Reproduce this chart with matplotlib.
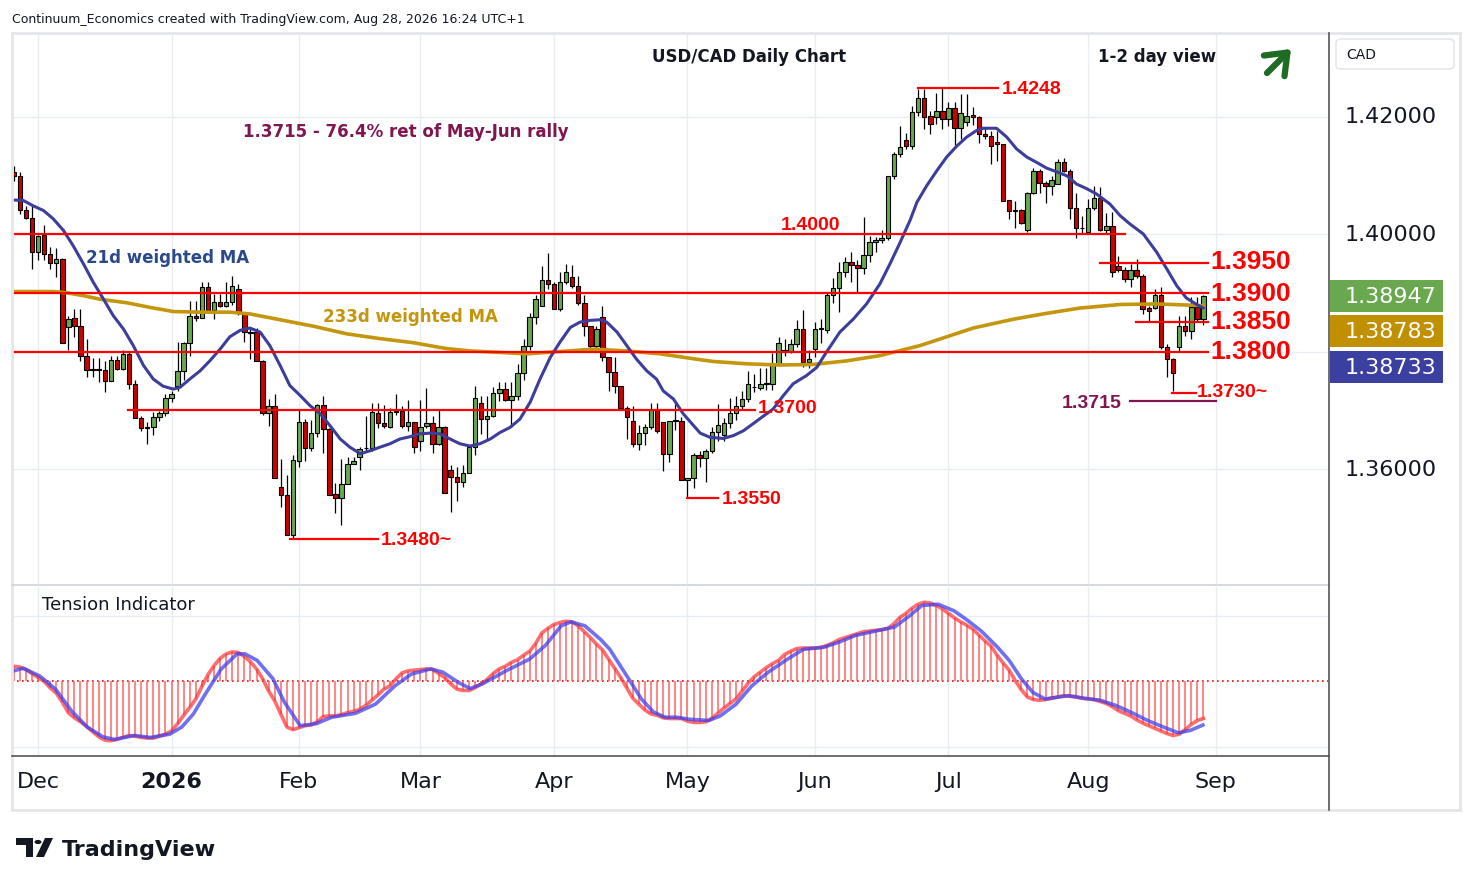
import matplotlib.pyplot as plt
import numpy as np
import pandas as pd
from matplotlib.patches import Rectangle, FancyArrowPatch, FancyBboxPatch, Polygon, Circle
from matplotlib.lines import Line2D

W, H = 1474, 887

# daily bars, weekdays, no bars on christmas day / new year's day
dates = pd.bdate_range("2025-11-25", "2026-08-28")
dates = dates[~dates.isin(pd.to_datetime(["2025-12-25", "2026-01-01"]))]

opens = [1.4106, 1.4098, 1.4041, 1.4028, 1.3970, 1.3998, 1.3966, 1.3951, 1.3957, 1.3841,
         1.3857, 1.3844, 1.3792, 1.3770, 1.3769, 1.3768, 1.3749, 1.3785, 1.3771, 1.3795,
         1.3744, 1.3686, 1.3670, 1.3671, 1.3688, 1.3695, 1.3720, 1.3742, 1.3766, 1.3814,
         1.3860, 1.3857, 1.3909, 1.3871, 1.3885, 1.3878, 1.3885, 1.3907, 1.3864, 1.3833,
         1.3833, 1.3784, 1.3695, 1.3707, 1.3569, 1.3555, 1.3488, 1.3614, 1.3680, 1.3635,
         1.3661, 1.3709, 1.3668, 1.3557, 1.3550, 1.3574, 1.3609, 1.3620, 1.3635, 1.3635,
         1.3696, 1.3679, 1.3672, 1.3697, 1.3698, 1.3674, 1.3680, 1.3647, 1.3674, 1.3678,
         1.3643, 1.3672, 1.3598, 1.3586, 1.3578, 1.3593, 1.3637, 1.3713, 1.3685, 1.3691,
         1.3730, 1.3737, 1.3718, 1.3724, 1.3763, 1.3809, 1.3858, 1.3877, 1.3922, 1.3915,
         1.3872, 1.3918, 1.3926, 1.3911, 1.3883, 1.3843, 1.3809, 1.3858, 1.3790, 1.3765,
         1.3741, 1.3703, 1.3682, 1.3643, 1.3662, 1.3671, 1.3701, 1.3680, 1.3626, 1.3682,
         1.3682, 1.3582, 1.3584, 1.3623, 1.3618, 1.3631, 1.3663, 1.3658, 1.3678, 1.3695,
         1.3707, 1.3719, 1.3739, 1.3738, 1.3745, 1.3745, 1.3779, 1.3801, 1.3801, 1.3813,
         1.3839, 1.3782, 1.3805, 1.3839, 1.3837, 1.3896, 1.3908, 1.3936, 1.3952, 1.3947,
         1.3942, 1.3965, 1.3986, 1.3990, 1.3994, 1.4098, 1.4136, 1.4160, 1.4150, 1.4208,
         1.4231, 1.4200, 1.4200, 1.4209, 1.4196, 1.4214, 1.4180, 1.4190, 1.4203, 1.4199,
         1.4170, 1.4166, 1.4157, 1.4153, 1.4058, 1.4040, 1.4040, 1.4006, 1.4070, 1.4107,
         1.4086, 1.4082, 1.4085, 1.4122, 1.4108, 1.4045, 1.4010, 1.4004, 1.4045, 1.4061,
         1.4007, 1.4013, 1.3945, 1.3939, 1.3923, 1.3939, 1.3929, 1.3874, 1.3874, 1.3896,
         1.3807, 1.3788, 1.3807, 1.3843, 1.3835, 1.3875, 1.3855]
highs = [1.4115, 1.4106, 1.4048, 1.4051, 1.3999, 1.4015, 1.3978, 1.3976, 1.3960, 1.3861,
         1.3872, 1.3872, 1.3822, 1.3789, 1.3789, 1.3783, 1.3793, 1.3793, 1.3803, 1.3800,
         1.3752, 1.3691, 1.3680, 1.3697, 1.3699, 1.3728, 1.3733, 1.3816, 1.3817, 1.3886,
         1.3886, 1.3918, 1.3918, 1.3898, 1.3898, 1.3918, 1.3928, 1.3915, 1.3866, 1.3841,
         1.3840, 1.3786, 1.3719, 1.3728, 1.3617, 1.3589, 1.3623, 1.3700, 1.3685, 1.3683,
         1.3711, 1.3725, 1.3670, 1.3577, 1.3617, 1.3621, 1.3621, 1.3637, 1.3690, 1.3712,
         1.3712, 1.3709, 1.3704, 1.3727, 1.3707, 1.3717, 1.3680, 1.3718, 1.3738, 1.3690,
         1.3701, 1.3673, 1.3607, 1.3603, 1.3607, 1.3640, 1.3742, 1.3725, 1.3724, 1.3739,
         1.3748, 1.3748, 1.3748, 1.3778, 1.3821, 1.3866, 1.3897, 1.3946, 1.3968, 1.3918,
         1.3935, 1.3949, 1.3947, 1.3929, 1.3897, 1.3843, 1.3843, 1.3878, 1.3790, 1.3790,
         1.3742, 1.3708, 1.3708, 1.3675, 1.3677, 1.3713, 1.3713, 1.3680, 1.3682, 1.3711,
         1.3688, 1.3585, 1.3627, 1.3631, 1.3634, 1.3671, 1.3711, 1.3686, 1.3720, 1.3724,
         1.3733, 1.3767, 1.3761, 1.3772, 1.3772, 1.3798, 1.3824, 1.3821, 1.3821, 1.3853,
         1.3871, 1.3803, 1.3850, 1.3855, 1.3899, 1.3925, 1.3952, 1.3961, 1.3969, 1.3955,
         1.4029, 1.3996, 1.3995, 1.4007, 1.4098, 1.4139, 1.4184, 1.4172, 1.4218, 1.4247,
         1.4247, 1.4210, 1.4240, 1.4248, 1.4225, 1.4225, 1.4238, 1.4238, 1.4216, 1.4201,
         1.4181, 1.4176, 1.4176, 1.4153, 1.4058, 1.4057, 1.4042, 1.4071, 1.4112, 1.4111,
         1.4091, 1.4099, 1.4128, 1.4129, 1.4111, 1.4070, 1.4031, 1.4060, 1.4081, 1.4080,
         1.4036, 1.4038, 1.3962, 1.3943, 1.3949, 1.3957, 1.3932, 1.3878, 1.3907, 1.3909,
         1.3813, 1.3789, 1.3861, 1.3861, 1.3892, 1.3892, 1.3897]
lows = [1.4090, 1.4034, 1.4025, 1.3940, 1.3955, 1.3955, 1.3940, 1.3927, 1.3814, 1.3803,
        1.3825, 1.3784, 1.3756, 1.3756, 1.3748, 1.3731, 1.3749, 1.3768, 1.3768, 1.3736,
        1.3686, 1.3665, 1.3643, 1.3658, 1.3682, 1.3690, 1.3714, 1.3733, 1.3752, 1.3792,
        1.3852, 1.3857, 1.3866, 1.3856, 1.3876, 1.3876, 1.3880, 1.3862, 1.3816, 1.3787,
        1.3784, 1.3692, 1.3674, 1.3584, 1.3535, 1.3488, 1.3482, 1.3604, 1.3613, 1.3630,
        1.3654, 1.3627, 1.3555, 1.3525, 1.3505, 1.3574, 1.3608, 1.3599, 1.3630, 1.3630,
        1.3670, 1.3670, 1.3670, 1.3692, 1.3670, 1.3665, 1.3627, 1.3631, 1.3670, 1.3627,
        1.3640, 1.3559, 1.3526, 1.3545, 1.3570, 1.3593, 1.3623, 1.3659, 1.3650, 1.3688,
        1.3715, 1.3715, 1.3671, 1.3718, 1.3752, 1.3803, 1.3847, 1.3877, 1.3906, 1.3872,
        1.3869, 1.3915, 1.3908, 1.3880, 1.3826, 1.3805, 1.3805, 1.3784, 1.3732, 1.3730,
        1.3700, 1.3651, 1.3637, 1.3632, 1.3640, 1.3668, 1.3662, 1.3597, 1.3612, 1.3667,
        1.3582, 1.3552, 1.3567, 1.3603, 1.3578, 1.3627, 1.3648, 1.3648, 1.3670, 1.3684,
        1.3700, 1.3714, 1.3731, 1.3734, 1.3734, 1.3734, 1.3776, 1.3793, 1.3798, 1.3807,
        1.3773, 1.3772, 1.3790, 1.3815, 1.3831, 1.3882, 1.3867, 1.3927, 1.3918, 1.3901,
        1.3932, 1.3953, 1.3970, 1.3985, 1.3990, 1.4093, 1.4131, 1.4145, 1.4145, 1.4201,
        1.4178, 1.4170, 1.4187, 1.4179, 1.4183, 1.4151, 1.4162, 1.4184, 1.4186, 1.4155,
        1.4162, 1.4119, 1.4124, 1.4057, 1.4026, 1.4011, 1.4017, 1.4003, 1.4068, 1.4070,
        1.4053, 1.4066, 1.4085, 1.4105, 1.4026, 1.3993, 1.4000, 1.4003, 1.4041, 1.4005,
        1.4000, 1.3926, 1.3935, 1.3918, 1.3909, 1.3925, 1.3864, 1.3852, 1.3872, 1.3804,
        1.3756, 1.3733, 1.3799, 1.3826, 1.3822, 1.3850, 1.3845]
closes = [1.4099, 1.4041, 1.4028, 1.3969, 1.3997, 1.3966, 1.3951, 1.3957, 1.3814, 1.3856,
          1.3844, 1.3792, 1.3768, 1.3769, 1.3770, 1.3749, 1.3785, 1.3771, 1.3795, 1.3744,
          1.3686, 1.3669, 1.3671, 1.3688, 1.3695, 1.3720, 1.3727, 1.3766, 1.3814, 1.3860,
          1.3857, 1.3909, 1.3871, 1.3885, 1.3878, 1.3885, 1.3912, 1.3868, 1.3833, 1.3832,
          1.3784, 1.3696, 1.3707, 1.3584, 1.3555, 1.3488, 1.3615, 1.3680, 1.3635, 1.3661,
          1.3709, 1.3668, 1.3556, 1.3550, 1.3574, 1.3609, 1.3614, 1.3634, 1.3636, 1.3697,
          1.3679, 1.3674, 1.3697, 1.3699, 1.3674, 1.3680, 1.3637, 1.3672, 1.3678, 1.3643,
          1.3672, 1.3559, 1.3586, 1.3578, 1.3593, 1.3637, 1.3720, 1.3685, 1.3690, 1.3730,
          1.3737, 1.3718, 1.3724, 1.3763, 1.3809, 1.3858, 1.3889, 1.3922, 1.3915, 1.3872,
          1.3918, 1.3935, 1.3911, 1.3883, 1.3843, 1.3809, 1.3838, 1.3790, 1.3765, 1.3742,
          1.3703, 1.3688, 1.3643, 1.3662, 1.3671, 1.3701, 1.3664, 1.3626, 1.3682, 1.3683,
          1.3582, 1.3584, 1.3623, 1.3618, 1.3631, 1.3663, 1.3675, 1.3678, 1.3695, 1.3707,
          1.3719, 1.3745, 1.3740, 1.3745, 1.3746, 1.3779, 1.3814, 1.3802, 1.3813, 1.3839,
          1.3782, 1.3787, 1.3839, 1.3840, 1.3896, 1.3908, 1.3936, 1.3952, 1.3947, 1.3942,
          1.3965, 1.3987, 1.3990, 1.3994, 1.4098, 1.4136, 1.4148, 1.4150, 1.4208, 1.4231,
          1.4200, 1.4187, 1.4209, 1.4196, 1.4214, 1.4180, 1.4206, 1.4201, 1.4199, 1.4170,
          1.4166, 1.4149, 1.4153, 1.4057, 1.4040, 1.4041, 1.4019, 1.4070, 1.4107, 1.4086,
          1.4082, 1.4092, 1.4122, 1.4108, 1.4045, 1.4010, 1.4011, 1.4045, 1.4061, 1.4007,
          1.4013, 1.3935, 1.3939, 1.3923, 1.3939, 1.3929, 1.3872, 1.3869, 1.3896, 1.3807,
          1.3788, 1.3763, 1.3843, 1.3835, 1.3875, 1.3855, 1.3895]

# 21d weighted MA: (bar index, value)
ma21_x = [-0.3, 1.6, 3.2, 4.9, 6.5, 8.2, 9.8, 11.5, 13.1, 14.8, 16.4, 18.1, 19.7, 21.4, 23, 24.6,
          26.3, 27.4, 29, 30.7, 32.3, 34, 35.6, 37.3, 38.9, 40.6, 42.2, 43.9, 45.5, 47.2, 48.8,
          50.5, 52.1, 53.8, 55.4, 57.1, 58.7, 60.3, 62, 63.6, 65.3, 66.9, 68.6, 70.2, 71.9, 73.5,
          75.2, 76.8, 78.5, 80.1, 81.8, 83.4, 85.1, 86.7, 88.4, 90, 91.7, 93.3, 95, 96.6, 97.7,
          99.4, 101, 102.6, 104.3, 105.9, 107, 108.7, 110.3, 112, 113.1, 114.7, 116.9, 118.6,
          120.2, 121.8, 123.5, 125.1, 126.8, 128.4, 130.6, 132.3, 133.9, 136.1, 138.3, 140.5,
          142.7, 144.4, 146, 147.7, 148.8, 150.4, 152.1, 153.7, 155.4, 157, 158.6, 159.7, 161.9,
          163.6, 165.2, 166.9, 168.5, 170.2, 171.8, 173.5, 175.1, 176.8, 178.4, 180.6, 182.3,
          183.9, 186.1, 188.3, 190, 191.6, 193.2, 194.9, 196]
ma21_y = [1.4058, 1.4057, 1.4048, 1.4040, 1.4026, 1.4006, 1.3980, 1.3949, 1.3918, 1.3889, 1.3861,
          1.3838, 1.3810, 1.3776, 1.3753, 1.3741, 1.3736, 1.3739, 1.3753, 1.3767, 1.3784, 1.3804,
          1.3825, 1.3836, 1.3840, 1.3833, 1.3810, 1.3776, 1.3742, 1.3725, 1.3708, 1.3694, 1.3674,
          1.3651, 1.3637, 1.3626, 1.3631, 1.3637, 1.3643, 1.3651, 1.3655, 1.3660, 1.3661, 1.3660,
          1.3651, 1.3643, 1.3639, 1.3643, 1.3651, 1.3662, 1.3671, 1.3685, 1.3714, 1.3753, 1.3790,
          1.3816, 1.3841, 1.3850, 1.3853, 1.3854, 1.3850, 1.3833, 1.3810, 1.3787, 1.3767, 1.3753,
          1.3733, 1.3719, 1.3694, 1.3674, 1.3661, 1.3654, 1.3652, 1.3657, 1.3665, 1.3677, 1.3690,
          1.3702, 1.3725, 1.3745, 1.3759, 1.3773, 1.3799, 1.3833, 1.3855, 1.3881, 1.3915, 1.3950,
          1.3985, 1.4024, 1.4054, 1.4082, 1.4108, 1.4131, 1.4150, 1.4165, 1.4176, 1.4180, 1.4180,
          1.4165, 1.4145, 1.4131, 1.4122, 1.4112, 1.4106, 1.4099, 1.4085, 1.4077, 1.4068, 1.4051,
          1.4031, 1.4017, 1.4000, 1.3969, 1.3940, 1.3912, 1.3891, 1.3880, 1.3874]

# 233d weighted MA
ma233_x = [-0.3, 6.5, 8.7, 11.5, 14.2, 18.6, 22.5, 26.3, 30.7, 35.6, 38.9, 43.9, 49.4, 54.9, 60.3,
           65.8, 71.3, 75.2, 79, 84.5, 90, 95.5, 101, 106.5, 109.8, 113.1, 115.3, 120.8, 126.3,
           131.7, 137.2, 142.7, 149.3, 158.1, 164.7, 170.2, 175.7, 182.3, 188.3, 196]
ma233_y = [1.3902, 1.3902, 1.3900, 1.3895, 1.3889, 1.3883, 1.3875, 1.3868, 1.3867, 1.3867, 1.3864,
           1.3854, 1.3843, 1.3830, 1.3822, 1.3815, 1.3805, 1.3801, 1.3799, 1.3796, 1.3800, 1.3804,
           1.3801, 1.3796, 1.3791, 1.3786, 1.3783, 1.3779, 1.3777, 1.3778, 1.3784, 1.3793, 1.3810,
           1.3840, 1.3855, 1.3865, 1.3874, 1.3880, 1.3881, 1.3878]

# tension indicator, one value per bar
tension = [0.23, 0.22, 0.18, 0.12, 0.06, 0.00, -0.10, -0.18, -0.32, -0.48,
           -0.56, -0.62, -0.69, -0.77, -0.85, -0.90, -0.91, -0.89, -0.86, -0.83,
           -0.84, -0.86, -0.87, -0.87, -0.84, -0.81, -0.76, -0.65, -0.52, -0.40,
           -0.27, -0.08, 0.10, 0.24, 0.35, 0.42, 0.45, 0.44, 0.38, 0.30,
           0.19, 0.04, -0.15, -0.30, -0.50, -0.70, -0.74, -0.71, -0.68, -0.67,
           -0.62, -0.54, -0.53, -0.53, -0.51, -0.48, -0.46, -0.43, -0.37, -0.29,
           -0.21, -0.12, -0.07, 0.04, 0.13, 0.16, 0.17, 0.18, 0.19, 0.18,
           0.12, 0.06, -0.04, -0.12, -0.14, -0.14, -0.10, -0.04, 0.03, 0.12,
           0.19, 0.23, 0.29, 0.33, 0.40, 0.46, 0.58, 0.74, 0.81, 0.87,
           0.90, 0.92, 0.91, 0.85, 0.76, 0.67, 0.57, 0.48, 0.34, 0.20,
           0.06, -0.10, -0.26, -0.35, -0.44, -0.50, -0.52, -0.56, -0.57, -0.57,
           -0.57, -0.61, -0.63, -0.63, -0.62, -0.57, -0.49, -0.41, -0.34, -0.27,
           -0.15, -0.03, 0.07, 0.14, 0.21, 0.27, 0.32, 0.41, 0.46, 0.50,
           0.51, 0.51, 0.51, 0.52, 0.55, 0.59, 0.64, 0.67, 0.70, 0.73,
           0.76, 0.77, 0.78, 0.79, 0.81, 0.88, 0.98, 1.04, 1.12, 1.18,
           1.21, 1.20, 1.16, 1.11, 1.04, 0.97, 0.91, 0.86, 0.80, 0.71,
           0.62, 0.54, 0.40, 0.28, 0.17, 0.01, -0.13, -0.24, -0.28, -0.29,
           -0.28, -0.26, -0.24, -0.22, -0.23, -0.24, -0.26, -0.27, -0.28, -0.31,
           -0.34, -0.39, -0.45, -0.49, -0.53, -0.59, -0.64, -0.68, -0.72, -0.76,
           -0.80, -0.83, -0.81, -0.74, -0.66, -0.60, -0.57]

# signal line of the tension indicator
signal_x = [0, 1.6, 4.3, 6.9, 9.5, 12.1, 14.7, 16.6, 19.9, 22.5, 25.7, 27.7, 29.6, 31.6, 34.2,
            36.8, 38.1, 40.1, 42.7, 44.6, 47.2, 49.8, 52.4, 56.3, 59.6, 62.8, 65.5, 68.7, 70.7,
            73.3, 75.2, 77.2, 81.1, 85, 87.6, 90.2, 91.8, 94.1, 96.7, 98.2, 101.5, 103.4, 105.4,
            107.3, 109.2, 111.2, 114.5, 116.4, 119, 121.6, 124.3, 127.5, 130.1, 133.4, 136, 138.6,
            142.5, 145.1, 147.7, 149.6, 152.3, 154.9, 156.9, 159.4, 162.1, 164, 166, 167.9, 169.9,
            173.8, 176.4, 179, 181.6, 184.2, 186.8, 189.4, 191.9, 193.9, 195.9]
signal_y = [0.16, 0.20, 0.08, -0.12, -0.45, -0.70, -0.85, -0.89, -0.83, -0.86, -0.81, -0.70, -0.50,
            -0.19, 0.19, 0.42, 0.42, 0.32, 0.04, -0.32, -0.68, -0.65, -0.55, -0.49, -0.35, -0.07,
            0.11, 0.19, 0.14, -0.02, -0.11, -0.04, 0.16, 0.34, 0.55, 0.85, 0.91, 0.85, 0.64, 0.49,
            0.01, -0.27, -0.47, -0.55, -0.55, -0.58, -0.60, -0.53, -0.35, -0.07, 0.14, 0.34, 0.49,
            0.52, 0.60, 0.70, 0.78, 0.83, 1.01, 1.16, 1.18, 1.08, 0.95, 0.77, 0.52, 0.32, 0.04,
            -0.17, -0.27, -0.22, -0.26, -0.29, -0.37, -0.48, -0.60, -0.70, -0.79, -0.75, -0.67]

month_labels = ["Dec", "2026", "Feb", "Mar", "Apr", "May", "Jun", "Jul", "Aug", "Sep"]
price_ticks = [1.42, 1.40, 1.36]

# support / resistance levels: (price, first bar, last bar)
levels = [(1.4248, 149, 162.2), (1.4000, -0.3, 183.1), (1.3950, 179, 196.8),
          (1.3900, -0.3, 196.8), (1.3850, 184.9, 196.8), (1.3800, -0.3, 196.8),
          (1.3730, 190.8, 194.8), (1.3700, 18.8, 122.1), (1.3550, 111, 116),
          (1.3480, 45.5, 60)]

RED = "#ff0000"
GREEN_C = "#6aa84f"
RED_C = "#cc0000"
MA21_C = "#3d3d9c"
MA233_C = "#c4960e"
MAROON = "#801650"
GRID = "#e8edf2"
TXT = "#131722"


def fx(px):
    return px / W


def fy(py):
    return 1 - py / H


def bar_x(px):
    # pixel column -> bar index
    return (px - 13.7) / 6.07


x = np.arange(len(dates))
o = np.array(opens)
hi = np.array(highs)
lo = np.array(lows)
c = np.array(closes)

# month starts, Sep 1 is the slot after Aug 31
month = dates.month
tick_pos = [i for i in range(1, len(dates)) if month[i] != month[i - 1]]
tick_pos.append(len(dates) + 1)

fig = plt.figure(figsize=(W / 100, H / 100), dpi=100)
ax = fig.add_axes([fx(12), fy(585), fx(1316), 550 / H])
ax2 = fig.add_axes([fx(12), fy(757), fx(1316), 169 / H])

xl = (bar_x(12), bar_x(1328))
for a in (ax, ax2):
    a.set_xlim(*xl)
    a.set_xticks([])
    a.set_yticks([])
    for s in a.spines.values():
        s.set_visible(False)
    for t in tick_pos:
        a.axvline(t, color=GRID, lw=1, zorder=0)

ax.set_ylim(1.40 - 350 / 5875, 1.40 + 200 / 5875)
for p in price_ticks + [1.38]:
    ax.axhline(p, color=GRID, lw=1, zorder=0)

# candles
up = c >= o
ax.vlines(x, lo, hi, color="black", lw=0.9, zorder=2)
body = np.maximum(np.abs(c - o), 0.00005)
ax.bar(x, body, bottom=np.minimum(o, c), width=0.74,
       color=np.where(up, GREEN_C, RED_C), edgecolor="black", linewidth=0.8, zorder=3)

# moving averages
ax.plot(ma233_x, ma233_y, color=MA233_C, lw=2.6, zorder=4, solid_capstyle="round")
ax.plot(ma21_x, ma21_y, color=MA21_C, lw=2.2, zorder=4, solid_capstyle="round")

# levels
for p, a0, a1 in levels:
    ax.plot([a0, a1], [p, p], color=RED, lw=1.6, zorder=5)
ax.plot([183.9, 198], [1.3715, 1.3715], color=MAROON, lw=1.6, zorder=5)

big = dict(color=RED, fontsize=19, fontweight="bold", family="Liberation Sans", va="center", zorder=6)
small = dict(color=RED, fontsize=14, fontweight="bold", family="Liberation Sans", va="center", zorder=6)
ax.text(bar_x(1210), 1.3954, "1.3950", **big)
ax.text(bar_x(1210), 1.3900, "1.3900", **big)
ax.text(bar_x(1210), 1.3852, "1.3850", **big)
ax.text(bar_x(1210), 1.3801, "1.3800", **big)
ax.text(bar_x(1002), 1.4248, "1.4248", **small)
ax.text(bar_x(810), 1.4017, "1.4000", ha="center", **small)
ax.text(bar_x(1197), 1.3732, "1.3730~", **small)
ax.text(bar_x(758), 1.3704, "1.3700", **small)
ax.text(bar_x(722), 1.3550, "1.3550", **small)
ax.text(bar_x(381), 1.3480, "1.3480~", **small)
ax.text(bar_x(1122), 1.3714, "1.3715", ha="right", color=MAROON, fontsize=14,
        fontweight="bold", family="Liberation Sans", va="center", zorder=6)

fig.text(fx(749), fy(57), "USD/CAD Daily Chart", ha="center", va="center",
         fontsize=12, fontweight="bold", color=TXT)
fig.text(fx(1157), fy(57), "1-2 day view", ha="center", va="center",
         fontsize=12, fontweight="bold", color=TXT)
fig.text(fx(243), fy(132), "1.3715 - 76.4% ret of May-Jun rally", va="center",
         fontsize=12, fontweight="bold", color=MAROON)
fig.text(fx(86), fy(258), "21d weighted MA", va="center", fontsize=12,
         fontweight="bold", color="#2c4a8a")
fig.text(fx(323), fy(317), "233d weighted MA", va="center", fontsize=12,
         fontweight="bold", color=MA233_C)

# view arrow
fig.add_artist(FancyArrowPatch((fx(1265), fy(76)), (fx(1293), fy(48)), transform=fig.transFigure,
                               arrowstyle="->,head_length=0.45,head_width=0.35", mutation_scale=30,
                               lw=4.5, color="#1e6b24"))

# tension indicator
ax2.set_ylim((682.3 - 757) / 65.3, (682.3 - 588) / 65.3)
ax2.axhline(1, color=GRID, lw=1, zorder=0)
ax2.axhline(-1, color=GRID, lw=1, zorder=0)
ax2.axhline(0, color=RED, lw=1.2, ls=(0, (1, 2)), zorder=1)
ax2.vlines(x, 0, tension, color="#ff6464", lw=1.1, zorder=2)
ax2.plot(x, tension, color="#ff3030", lw=2.6, alpha=0.7, zorder=3)
ax2.plot(signal_x, signal_y, color="#4040f0", lw=2.6, alpha=0.75, zorder=4)
fig.text(fx(42), fy(605), "Tension Indicator", va="center", fontsize=13, color=TXT)

# frame lines
def fline(x0, y0, x1, y1, color, lw):
    fig.add_artist(Line2D([fx(x0), fx(x1)], [fy(y0), fy(y1)], color=color, lw=lw))


fline(12, 34, 1460, 34, "#e4e6ea", 2)
fline(12, 811, 1460, 811, "#e4e6ea", 2)
fline(12, 34, 12, 811, "#e4e6ea", 2)
fline(1460, 34, 1460, 811, "#e4e6ea", 2)
fline(12, 586, 1329, 586, "#d0d3d8", 1.2)
fline(12, 757, 1329, 757, "#555555", 1.2)
fline(1329, 34, 1329, 811, "#555555", 1.2)

# time axis
for t, lab in zip(tick_pos, month_labels):
    px = 13.7 + 6.07 * t
    fig.text(fx(px), fy(782), lab, ha="center", va="center", fontsize=16,
             fontweight="bold" if lab == "2026" else "normal", color=TXT)

# price axis
for p in price_ticks:
    fig.text(fx(1391), fy(235 - (p - 1.40) * 5875), f"{p:.5f}", ha="center", va="center",
             fontsize=16, color=TXT)
fig.add_artist(FancyBboxPatch((fx(1336), fy(70)), fx(118), 30 / H, transform=fig.transFigure,
                              boxstyle="round,pad=0,rounding_size=0.004", fc="white",
                              ec="#e0e3e8", lw=1))
fig.text(fx(1346), fy(55), "CAD", va="center", fontsize=10, color=TXT)

tags = [(1.38947, 297, GREEN_C), (1.38783, 332, "#c09000"), (1.38733, 368, "#3b3fa0")]
for val, py, col in tags:
    fig.add_artist(Rectangle((fx(1330), fy(py + 16)), fx(113), 32 / H, transform=fig.transFigure,
                             fc=col, ec="none"))
    fig.text(fx(1390), fy(py), f"{val:.5f}", ha="center", va="center", fontsize=16, color="white")

# header and logo
fig.text(fx(12), fy(19), "Continuum_Economics created with TradingView.com, Aug 28, 2026 16:24 UTC+1",
         va="center", fontsize=9, color=TXT)
fig.add_artist(Polygon([(fx(16), fy(839)), (fx(33), fy(839)), (fx(33), fy(858)), (fx(26), fy(858)),
                        (fx(26), fy(846)), (fx(16), fy(846))], closed=True, transform=fig.transFigure,
                       fc=TXT, ec="none"))
fig.add_artist(Circle((fx(38), fy(843)), 3.5 / W, transform=fig.transFigure, fc=TXT, ec="none"))
fig.add_artist(Polygon([(fx(45), fy(839)), (fx(53), fy(839)), (fx(44), fy(858)), (fx(36), fy(858))],
                       closed=True, transform=fig.transFigure, fc=TXT, ec="none"))
fig.text(fx(62), fy(850), "TradingView", va="center", fontsize=16, fontweight="bold", color=TXT)

fig.savefig("out.png", dpi=100)
